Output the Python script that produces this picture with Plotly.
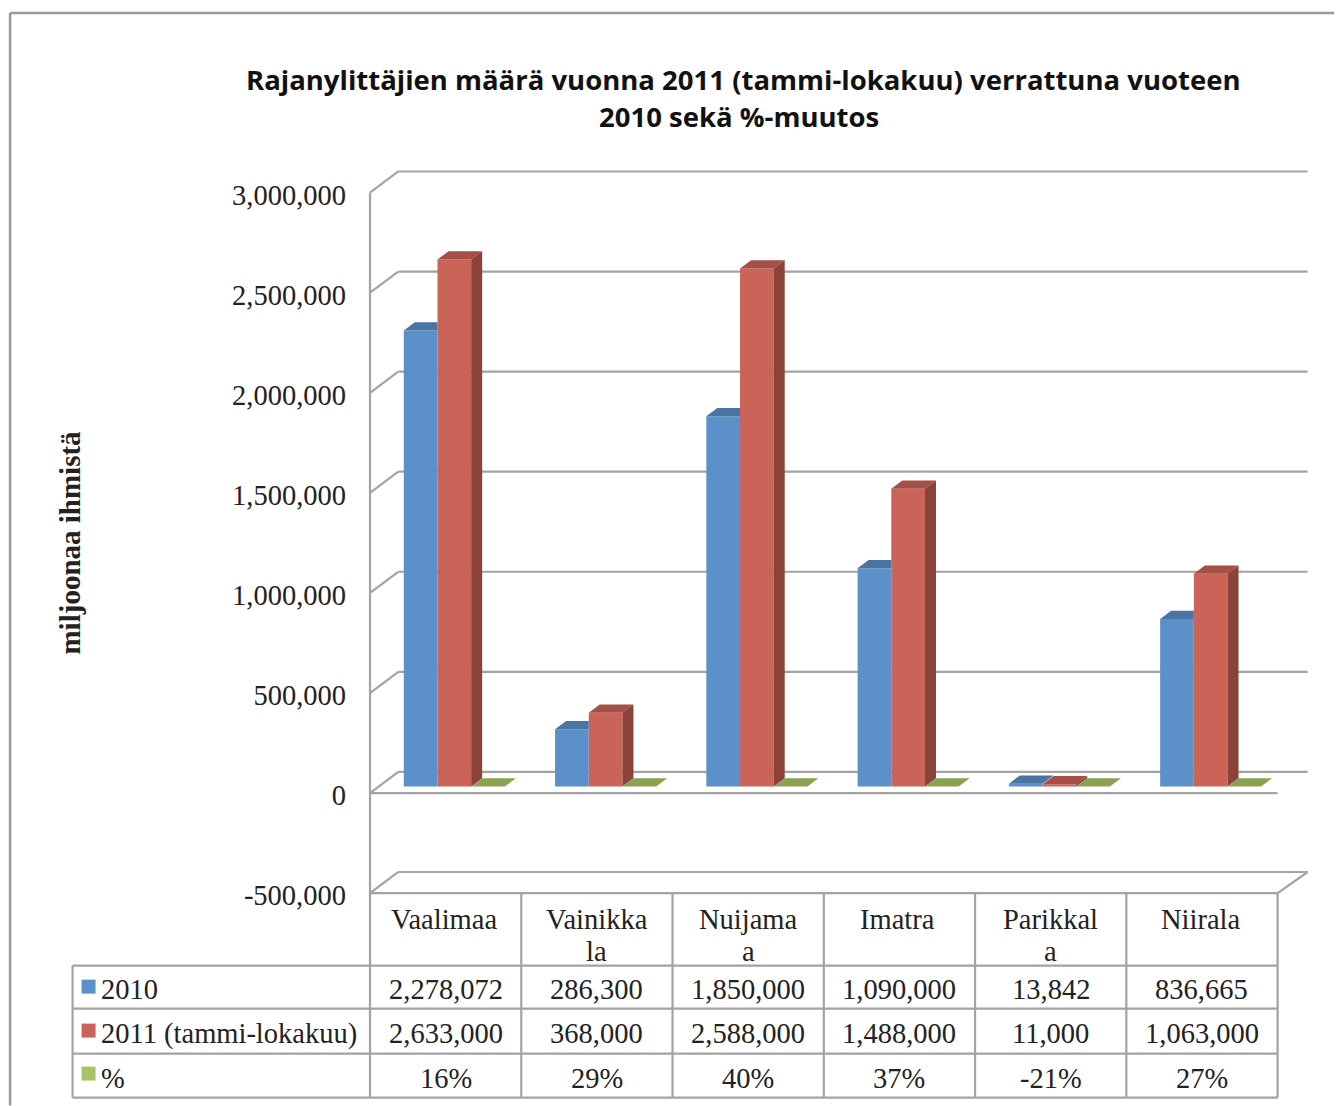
import plotly.graph_objects as go

# ---- data ----
title_lines = ["Rajanylittäjien määrä vuonna 2011 (tammi-lokakuu) verrattuna vuoteen", "2010 sekä %-muutos"]
y_title = "miljoonaa ihmistä"
categories = ["Vaalimaa", "Vainikka\nla", "Nuijama\na", "Imatra", "Parikkal\na", "Niirala"]
values_2010 = [2278072, 286300, 1850000, 1090000, 13842, 836665]
values_2011 = [2633000, 368000, 2588000, 1488000, 11000, 1063000]
percent_change = [16, 29, 40, 37, -21, 27]
series_names = ["2010", "2011 (tammi-lokakuu)", "%"]
y_ticks = [-500000, 0, 500000, 1000000, 1500000, 2000000, 2500000, 3000000]

# ---- page geometry ----
BODY = 8
FIG_W, FIG_H = 1334, 1098
X0, CAT_W = 369.5, 151.3
Y_ZERO, PX_PER_UNIT = 793.3, 200.3e-6
PAD = 12

x_of_px = lambda p: (p - X0) / CAT_W
y_of_px = lambda p: (Y_ZERO - p) / PX_PER_UNIT
plot_l, plot_r, plot_t, plot_b = X0 - PAD, 1307.7 + PAD, 170.7 - PAD, 893.3 + PAD
margin = dict(l=plot_l - BODY, r=FIG_W - (plot_r - BODY), t=plot_t - BODY, b=FIG_H - (plot_b - BODY), pad=0)
xp = lambda p: (p - plot_l) / (plot_r - plot_l)
yp = lambda p: 1 - (p - plot_t) / (plot_b - plot_t)

# ---- styles ----
SERIF = "Liberation Serif"
TXT = "#222222"
GRID = "#A3A3A3"
BLUE, BLUE_TOP = "#5B90C8", "#4A74A3"
RED, RED_TOP, RED_SIDE = "#CA6459", "#A64F47", "#8B4239"
GREEN_TOP, GREEN_KEY = "#8AA252", "#A9C26A"
FS = 28.5

BAR_W = 33.7 / CAT_W
BAR_START = (403.3 - X0) / CAT_W
BASE = 6.6 / PX_PER_UNIT
DEPTH_X, DEPTH_Y = 11 / CAT_W, 8.3 / PX_PER_UNIT
WALL_X, WALL_Y = 28.3 / CAT_W, 21.2 / PX_PER_UNIT
X_END = 6 + 30 / CAT_W

pos = lambda k: [i + BAR_START + BAR_W * k for i in range(len(categories))]
green_values = [p / 100 for p in percent_change]

fig = go.Figure()


def add_bar(k, vals, color):
    fig.add_trace(go.Bar(x=[p + BAR_W / 2 for p in pos(k)], y=vals, base=BASE, width=BAR_W,
                         marker=dict(color=color, line=dict(width=0)), showlegend=False,
                         hoverinfo="skip"))


def add_polys(polys, color):
    xs, ys = [], []
    for poly in polys:
        xs += [pt[0] for pt in poly] + [poly[0][0], None]
        ys += [pt[1] for pt in poly] + [poly[0][1], None]
    fig.add_trace(go.Scatter(x=xs, y=ys, mode="lines", line=dict(width=0), fill="toself",
                             fillcolor=color, showlegend=False, hoverinfo="skip"))


def top_poly(x, v, clip=False):
    t = BASE + v
    right = x + BAR_W if clip else x + BAR_W + DEPTH_X
    return [(x, t), (x + DEPTH_X, t + DEPTH_Y), (right, t + DEPTH_Y), (x + BAR_W, t)]


add_bar(0, values_2010, BLUE)
add_bar(1, values_2011, RED)
add_bar(2, green_values, GREEN_TOP)

add_polys([top_poly(x, a, b > a) for x, a, b in zip(pos(0), values_2010, values_2011)], BLUE_TOP)
add_polys([top_poly(x, b) for x, b in zip(pos(1), values_2011)], RED_TOP)
add_polys([[(x + BAR_W, BASE), (x + BAR_W + DEPTH_X, BASE + DEPTH_Y),
            (x + BAR_W + DEPTH_X, BASE + b + DEPTH_Y), (x + BAR_W, BASE + b)]
           for x, b in zip(pos(1), values_2011)], RED_SIDE)
add_polys([top_poly(x, g) for x, g in zip(pos(2), green_values)], GREEN_TOP)

# ---- walls and gridlines, in axis coordinates ----
shapes = []


def seg(x0, y0, x1, y1):
    shapes.append(dict(type="line", xref="x", yref="y", x0=x0, y0=y0, x1=x1, y1=y1,
                       layer="below", line=dict(color=GRID, width=2.2)))


def pseg(x0, y0, x1, y1, color=GRID, width=2.2):
    shapes.append(dict(type="line", xref="paper", yref="paper", x0=xp(x0), y0=yp(y0),
                       x1=xp(x1), y1=yp(y1), layer="above", line=dict(color=color, width=width)))


for t in y_ticks:
    seg(0, t, WALL_X, t + WALL_Y)
    seg(WALL_X, t + WALL_Y, X_END, t + WALL_Y)
seg(0, y_ticks[0], 0, y_ticks[-1])
seg(0, 0, 6, 0)
seg(0, y_ticks[0], 6, y_ticks[0])
seg(6, y_ticks[0], X_END, y_ticks[0] + WALL_Y)

# ---- outer frame ----
pseg(9.5, 12.5, 1342, 12.5, "#999999", 2.5)
pseg(9.5, 12.5, 9.5, 1106, "#999999", 2.5)

# ---- data table ----
TABLE_X = 72
ROWS = [893.3, 966, 1009, 1054, 1098]
for k in range(7):
    xx = X0 + CAT_W * k
    pseg(xx, ROWS[0], xx, ROWS[-1])
pseg(TABLE_X, ROWS[1], TABLE_X, ROWS[-1])
for r in ROWS[1:]:
    pseg(TABLE_X, r, X0 + 6 * CAT_W, r)

annotations = []


def label(x, y, text, anchor="center", size=FS, **kw):
    annotations.append(dict(xref="paper", yref="paper", x=xp(x), y=yp(y), text=text, showarrow=False,
                            xanchor=anchor, yanchor="middle", font=dict(family=SERIF, size=size, color=TXT), **kw))


HEADER_NUDGE = [-2, 0, 0, -2, 0, -1]
for i, c in enumerate(categories):
    cx = X0 + CAT_W * (i + 0.5) + HEADER_NUDGE[i]
    for j, line in enumerate(c.split("\n")):
        label(cx, 920 + 32 * j, line)

ROW_Y = [990, 1034, 1079]
rows = [[f"{v:,}" for v in values_2010], [f"{v:,}" for v in values_2011], [f"{p}%" for p in percent_change]]
for ry, row in zip(ROW_Y, rows):
    for i, s in enumerate(row):
        label(X0 + CAT_W * (i + 0.5), ry, s)

KEY_COLORS = [BLUE, RED, GREEN_KEY]
for ky, ty, name, col in zip([987, 1031, 1074], [989.5, 1034.5, 1078.5], series_names, KEY_COLORS):
    shapes.append(dict(type="rect", xref="paper", yref="paper", x0=xp(81), x1=xp(95), y0=yp(ky - 7), y1=yp(ky + 7),
                       fillcolor=col, line=dict(width=0), layer="above"))
    label(98.5, ty, name, anchor="left")

label(69, 543, f"<b>{y_title}</b>", size=29, textangle=-90)

for line, cx, cy in zip(title_lines, [743, 739], [79.5, 116]):
    annotations.append(dict(xref="paper", yref="paper", x=xp(cx), y=yp(cy), text=f"<b>{line}</b>", showarrow=False,
                            xanchor="center", yanchor="middle", align="center",
                            font=dict(family="Open Sans", size=27.5, color="#111111")))

fig.update_layout(
    width=FIG_W, height=FIG_H, margin=margin, autosize=False, barmode="overlay",
    paper_bgcolor="white", plot_bgcolor="white", shapes=shapes, annotations=annotations,
    xaxis=dict(range=[x_of_px(plot_l), x_of_px(plot_r)], visible=False, fixedrange=True),
    yaxis=dict(range=[y_of_px(plot_b), y_of_px(plot_t)], tickvals=y_ticks,
               ticktext=[f"{t:,}" for t in y_ticks], showgrid=False, zeroline=False, showline=False,
               ticks="", ticklabelstandoff=11, ticklabelshift=2,
               tickfont=dict(family=SERIF, size=FS, color=TXT), fixedrange=True),
)

fig.write_html("out.html")
